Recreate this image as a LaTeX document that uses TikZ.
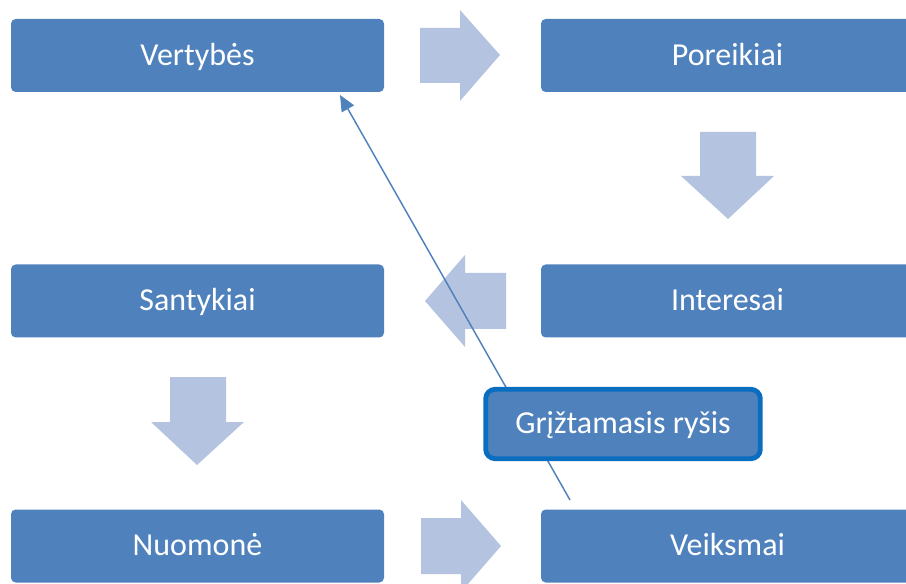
\documentclass[tikz,border=0pt]{standalone}
\usepackage{fontspec}
\setmainfont{Carlito}
\usetikzlibrary{arrows.meta}
\definecolor{boxblue}{HTML}{4F81BD}
\definecolor{arrowblue}{HTML}{B4C3DF}
\definecolor{edgeblue}{HTML}{0A6EC0}
\tikzset{
  stagebox/.style={fill=boxblue, draw=none, rounded corners=3.5pt,
    minimum width=279.75pt, minimum height=54.75pt, inner sep=0pt,
    text height=14.6pt, text depth=0pt,
    text=white, font=\fontsize{24}{28}\selectfont},
  fbbox/.style={fill=boxblue, draw=edgeblue, line width=3.6pt, rounded corners=7pt,
    minimum width=206pt, minimum height=52pt, inner sep=0pt,
    text height=14.6pt, text depth=0pt,
    text=white, font=\fontsize{24}{28}\selectfont},
  blockarrow/.style={fill=arrowblue, draw=none},
  fbline/.style={draw=boxblue, line width=1.1pt, -{Triangle[length=12pt,width=10.5pt]}}
}
\begin{document}
\begin{tikzpicture}[x=0.75pt, y=-0.75pt]
\useasboundingbox (0,0) rectangle (906,584);
\clip (0,0) rectangle (906,584);
% stage boxes
\node[stagebox] (vert) at (197.5,55.5) {Vertybės};
\node[stagebox] (por)  at (727.5,55.5) {Poreikiai};
\node[stagebox] (sant) at (197.5,301) {Santykiai};
\node[stagebox] (int)  at (727.5,301) {Interesai};
\node[stagebox] (nuom) at (197.5,546) {Nuomonė};
\node[stagebox] (veik) at (727.5,546) {Veiksmai};
% block arrows
\fill[blockarrow] (420,28) -- (460,28) -- (460,10) -- (500,55) -- (460,101) -- (460,83) -- (420,83) -- cycle;
\fill[blockarrow] (700,132) -- (756,132) -- (756,176) -- (774,176) -- (728,219) -- (681,176) -- (700,176) -- cycle;
\fill[blockarrow] (506,273) -- (465,273) -- (465,255) -- (425,301) -- (465,347) -- (465,329) -- (506,329) -- cycle;
\fill[blockarrow] (170,377) -- (226,377) -- (226,422) -- (244,422) -- (197,465) -- (151,422) -- (170,422) -- cycle;
\fill[blockarrow] (421,518) -- (461,518) -- (461,500) -- (501,546) -- (461,592) -- (461,574) -- (421,574) -- cycle;
% feedback connector
\coordinate (fbs) at (570,500);
\coordinate (fbt) at (340,95);
\draw[fbline] (fbs) -- (fbt);
% feedback box
\node[fbbox] (fb) at (623,424) {Grįžtamasis ryšis};
\end{tikzpicture}
\end{document}
